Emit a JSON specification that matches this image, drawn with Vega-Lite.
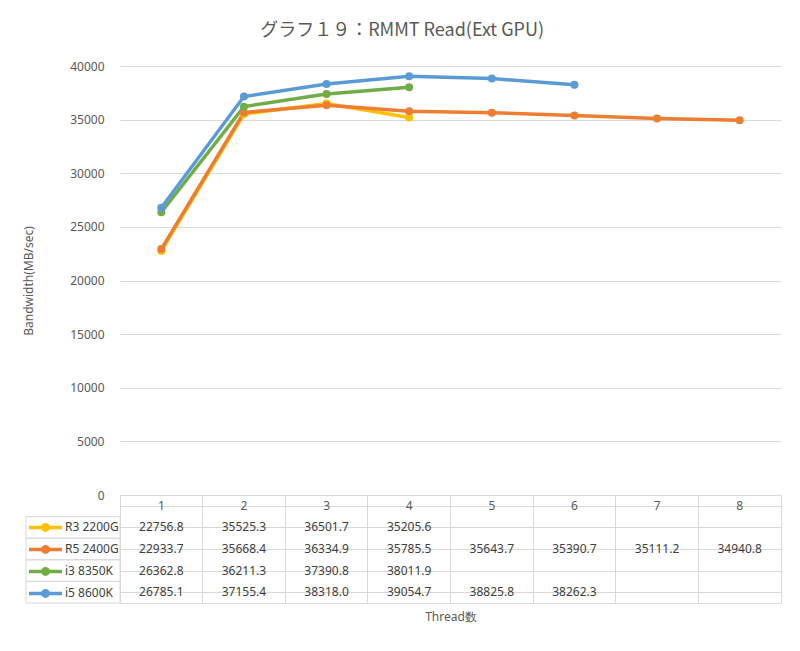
{
  "$schema": "https://vega.github.io/schema/vega-lite/v6.json",
  "padding": {"left": 22, "top": 22, "right": 5, "bottom": 5},
  "background": "white",
  "title": {"text": "グラフ１９：RMMT Read(Ext GPU)", "font": "Noto Sans CJK JP", "fontSize": 18, "fontWeight": "normal", "color": "#595959", "anchor": "middle", "frame": "bounds", "offset": 20},
  "config": {"view": {"stroke": null}, "font": "Noto Sans", "axis": {"labelFont": "Noto Sans", "titleFont": "Noto Sans", "labelColor": "#595959", "titleColor": "#595959", "labelFontSize": 12, "titleFontSize": 12, "titleFontWeight": "normal", "gridColor": "#d9d9d9"}},
  "datasets": {
    "bw": [
      {"s": "R3 2200G", "t": 1, "v": 22756.8},
      {"s": "R3 2200G", "t": 2, "v": 35525.3},
      {"s": "R3 2200G", "t": 3, "v": 36501.7},
      {"s": "R3 2200G", "t": 4, "v": 35205.6},
      {"s": "R5 2400G", "t": 1, "v": 22933.7},
      {"s": "R5 2400G", "t": 2, "v": 35668.4},
      {"s": "R5 2400G", "t": 3, "v": 36334.9},
      {"s": "R5 2400G", "t": 4, "v": 35785.5},
      {"s": "R5 2400G", "t": 5, "v": 35643.7},
      {"s": "R5 2400G", "t": 6, "v": 35390.7},
      {"s": "R5 2400G", "t": 7, "v": 35111.2},
      {"s": "R5 2400G", "t": 8, "v": 34940.8},
      {"s": "i3 8350K", "t": 1, "v": 26362.8},
      {"s": "i3 8350K", "t": 2, "v": 36211.3},
      {"s": "i3 8350K", "t": 3, "v": 37390.8},
      {"s": "i3 8350K", "t": 4, "v": 38011.9},
      {"s": "i5 8600K", "t": 1, "v": 26785.1},
      {"s": "i5 8600K", "t": 2, "v": 37155.4},
      {"s": "i5 8600K", "t": 3, "v": 38318.0},
      {"s": "i5 8600K", "t": 4, "v": 39054.7},
      {"s": "i5 8600K", "t": 5, "v": 38825.8},
      {"s": "i5 8600K", "t": 6, "v": 38262.3}
    ]
  },
  "columns": 2,
  "spacing": 0,
  "bounds": "flush",
  "resolve": {"scale": {"x": "independent", "y": "independent", "color": "independent"}, "legend": {"color": "independent"}},
  "concat": [
    {
      "width": 94, "height": 429,
      "data": {"values": [{}]},
      "mark": {"type": "text"},
      "encoding": {"text": {"value": ""}}
    },
    {
      "width": 661, "height": 429,
      "data": {"name": "bw"},
      "encoding": {
        "x": {"field": "t", "type": "ordinal", "scale": {"type": "point", "domain": [1, 2, 3, 4, 5, 6, 7, 8], "padding": 0.5}, "axis": null},
        "y": {"field": "v", "type": "quantitative", "scale": {"domain": [0, 40000], "nice": false, "zero": true},
          "axis": {"title": "Bandwidth(MB/sec)", "format": "d", "values": [0, 5000, 10000, 15000, 20000, 25000, 30000, 35000, 40000], "grid": true, "domain": false, "ticks": false, "labelPadding": 16, "titlePadding": 34}},
        "color": {"field": "s", "type": "nominal",
          "scale": {"domain": ["R3 2200G", "R5 2400G", "i3 8350K", "i5 8600K"], "range": ["#FFC000", "#ED7D31", "#70AD47", "#5B9BD5"]},
          "legend": {"orient": "none", "legendX": -93, "legendY": 450.6, "title": null, "padding": 0, "rowPadding": 0, "clipHeight": 21.6, "symbolOffset": 0, "labelOffset": 1,
            "symbolType": "M-1,0H1M0.167,0A0.167,0.167,0,1,1,-0.167,0A0.167,0.167,0,1,1,0.167,0M0.06,0A0.06,0.06,0,1,1,-0.06,0A0.06,0.06,0,1,1,0.06,0",
            "symbolSize": 1089, "symbolStrokeWidth": 3.5, "labelFont": "Noto Sans", "labelFontSize": 12, "labelColor": "#404040"}}
      },
      "layer": [
        {"mark": {"type": "line", "strokeWidth": 3.5}},
        {"mark": {"type": "point", "filled": true, "size": 64, "opacity": 1}}
      ]
    },
    {
      "width": 94, "height": 108,
      "data": {"name": "bw"},
      "transform": [{"aggregate": [{"op": "count", "as": "n"}], "groupby": ["s"]}],
      "mark": {"type": "rect", "fill": "transparent", "stroke": "#d9d9d9", "strokeWidth": 1},
      "encoding": {
        "y": {"field": "s", "type": "nominal", "scale": {"domain": ["header", "R3 2200G", "R5 2400G", "i3 8350K", "i5 8600K"], "paddingInner": 0, "paddingOuter": 0}, "axis": null}
      }
    },
    {
      "width": 661, "height": 108,
      "view": {"stroke": "#d9d9d9"},
      "data": {"name": "bw"},
      "encoding": {
        "x": {"field": "t", "type": "ordinal", "scale": {"type": "band", "domain": [1, 2, 3, 4, 5, 6, 7, 8], "paddingInner": 0, "paddingOuter": 0},
          "axis": {"orient": "bottom", "title": "Thread数", "labels": false, "ticks": false, "domain": false, "grid": true, "bandPosition": 0, "titlePadding": 8}}
      },
      "layer": [
        {
          "mark": {"type": "text", "color": "#404040", "fontSize": 12, "font": "Noto Sans"},
          "encoding": {
            "y": {"field": "s", "type": "nominal", "scale": {"domain": ["header", "R3 2200G", "R5 2400G", "i3 8350K", "i5 8600K"], "paddingInner": 0, "paddingOuter": 0},
              "axis": {"title": null, "labels": false, "ticks": false, "domain": false, "grid": true, "bandPosition": 0}},
            "text": {"field": "v", "type": "quantitative", "format": ".1f"}
          }
        },
        {
          "transform": [{"aggregate": [{"op": "count", "as": "n"}], "groupby": ["t"]}],
          "mark": {"type": "text", "color": "#595959", "fontSize": 12, "font": "Noto Sans"},
          "encoding": {
            "y": {"datum": "header"},
            "text": {"field": "t", "type": "nominal"}
          }
        }
      ]
    }
  ]
}
